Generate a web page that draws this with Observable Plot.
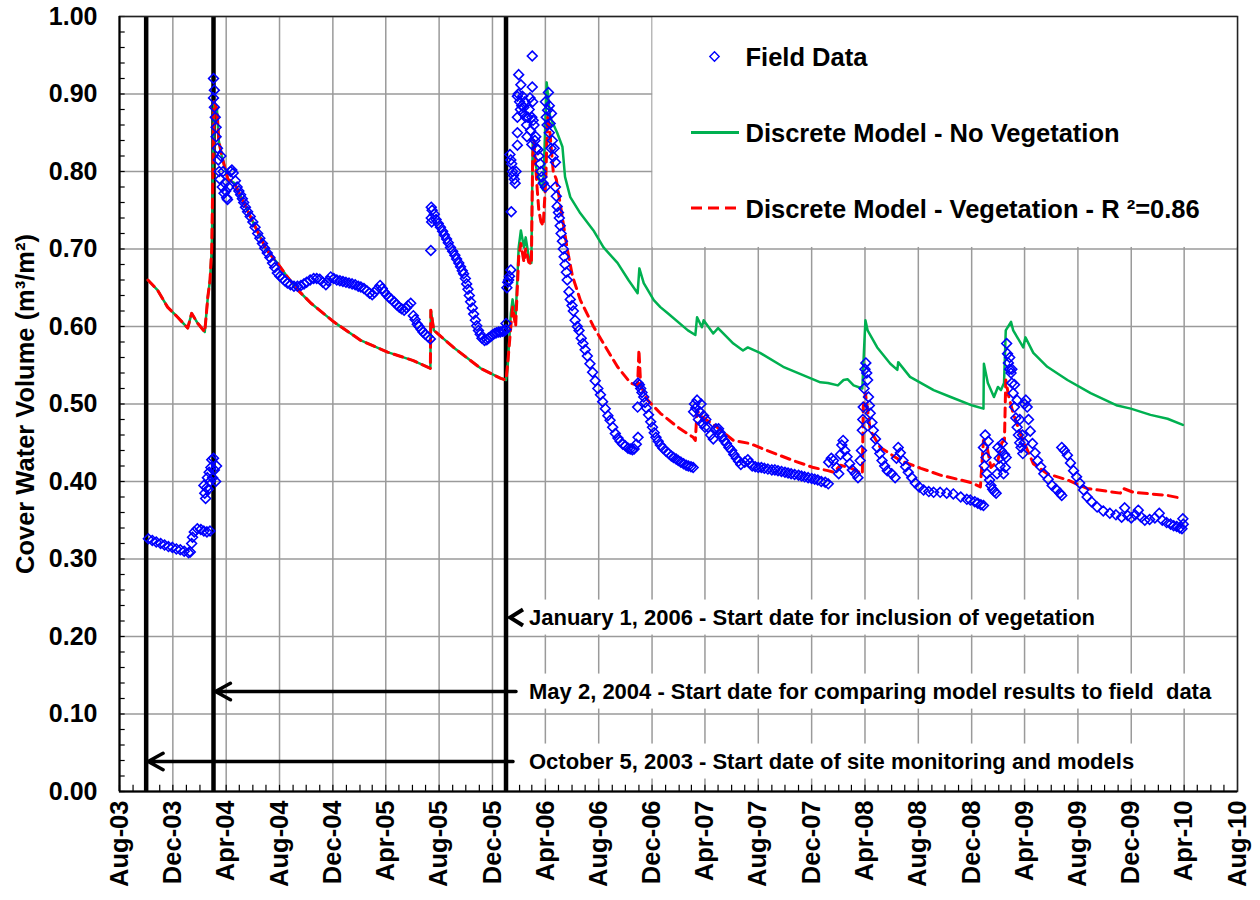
<!DOCTYPE html>
<html><head><meta charset="utf-8">
<script src="https://cdn.jsdelivr.net/npm/d3@7"></script>
<script src="https://cdn.jsdelivr.net/npm/@observablehq/plot@0.6"></script>
<style>
body{margin:0;background:#fff;}
#chart{width:1260px;height:900px;}
</style></head><body><div id="chart"></div>
<script>
// ---------- DATA ----------
const xTickDates = ["2003-08-01","2003-12-01","2004-04-01","2004-08-01","2004-12-01","2005-04-01","2005-08-01","2005-12-01","2006-04-01","2006-08-01","2006-12-01","2007-04-01","2007-08-01","2007-12-01","2008-04-01","2008-08-01","2008-12-01","2009-04-01","2009-08-01","2009-12-01","2010-04-01","2010-08-01"];
const yTicks = [0,0.1,0.2,0.3,0.4,0.5,0.6,0.7,0.8,0.9,1.0];
const seriesNames = ["Field Data","Discrete Model - No Vegetation","Discrete Model - Vegetation - R \u00B2=0.86"];
const yTitle = "Cover Water Volume (m\u00B3/m\u00B2)";
const markerDates = ["2003-10-01","2004-03-03","2006-01-01"];
const annotationLabels = [
 "January 1, 2006 - Start date for inclusion of vegetation",
 "May 2, 2004 - Start date for comparing model results to field  data",
 "October 5, 2003 - Start date of site monitoring and models"];

// model, both runs identical before 2006
const modelShared = [["2003-10-05",0.660],["2003-10-27",0.647],["2003-11-19",0.625],["2003-12-12",0.612],["2004-01-04",0.598],["2004-01-13",0.617],["2004-01-27",0.604],["2004-02-12",0.593],["2004-02-19",0.638],["2004-02-24",0.660],["2004-02-28",0.700],["2004-03-04",0.890],["2004-03-11",0.880],["2004-03-15",0.840],["2004-03-22",0.820],["2004-04-05",0.790],["2004-04-20",0.785],["2004-05-01",0.772],["2004-06-01",0.735],["2004-07-01",0.700],["2004-07-27",0.682],["2004-08-19",0.664],["2004-09-12",0.647],["2004-10-12",0.630],["2004-12-03",0.606],["2005-02-03",0.582],["2005-04-05",0.567],["2005-06-03",0.556],["2005-07-12",0.546],["2005-07-13",0.621],["2005-07-20",0.595],["2005-09-03",0.573],["2005-11-04",0.546],["2005-12-20",0.533],["2006-01-01",0.531]];
const noVegAfter = [["2006-01-05",0.550],["2006-01-12",0.617],["2006-01-16",0.635],["2006-01-23",0.612],["2006-01-30",0.702],["2006-02-04",0.724],["2006-02-11",0.702],["2006-02-15",0.715],["2006-02-22",0.690],["2006-02-28",0.682],["2006-03-03",0.837],["2006-03-06",0.820],["2006-03-13",0.800],["2006-03-20",0.785],["2006-03-27",0.776],["2006-04-04",0.915],["2006-04-12",0.870],["2006-04-28",0.850],["2006-05-10",0.832],["2006-05-16",0.793],["2006-05-28",0.767],["2006-06-20",0.746],["2006-07-20",0.724],["2006-08-12",0.702],["2006-09-13",0.682],["2006-10-08",0.660],["2006-10-29",0.643],["2006-11-02",0.675],["2006-11-12",0.656],["2006-12-05",0.634],["2006-12-20",0.625],["2007-01-06",0.617],["2007-02-21",0.595],["2007-03-10",0.589],["2007-03-14",0.612],["2007-03-25",0.599],["2007-03-29",0.608],["2007-04-20",0.591],["2007-05-01",0.598],["2007-06-05",0.578],["2007-06-27",0.569],["2007-07-08",0.573],["2007-08-05",0.566],["2007-09-27",0.548],["2007-12-21",0.528],["2008-01-07",0.527],["2008-01-30",0.524],["2008-02-12",0.531],["2008-02-21",0.532],["2008-03-06",0.524],["2008-03-26",0.520],["2008-03-28",0.548],["2008-04-02",0.608],["2008-04-07",0.595],["2008-04-29",0.573],["2008-05-29",0.552],["2008-06-14",0.544],["2008-06-16",0.554],["2008-07-13",0.535],["2008-09-05",0.518],["2008-10-14",0.509],["2008-12-03",0.498],["2008-12-28",0.494],["2008-12-29",0.552],["2009-01-07",0.527],["2009-01-21",0.509],["2009-01-30",0.522],["2009-02-06",0.518],["2009-02-13",0.527],["2009-02-17",0.595],["2009-03-01",0.606],["2009-03-06",0.595],["2009-03-29",0.573],["2009-04-03",0.586],["2009-04-21",0.566],["2009-05-23",0.548],["2009-07-08",0.531],["2009-08-30",0.514],["2009-10-30",0.498],["2009-11-30",0.494],["2010-01-14",0.486],["2010-02-22",0.481],["2010-03-29",0.473]];
const vegAfter = [["2006-01-05",0.553],["2006-01-12",0.600],["2006-01-16",0.625],["2006-01-23",0.600],["2006-01-30",0.690],["2006-02-04",0.707],["2006-02-11",0.683],["2006-02-15",0.700],["2006-02-22",0.683],["2006-02-28",0.680],["2006-03-03",0.820],["2006-03-06",0.840],["2006-03-13",0.780],["2006-03-17",0.750],["2006-03-22",0.735],["2006-03-27",0.730],["2006-04-02",0.790],["2006-04-06",0.870],["2006-04-10",0.860],["2006-04-19",0.800],["2006-04-26",0.790],["2006-05-10",0.740],["2006-05-21",0.700],["2006-06-02",0.665],["2006-06-20",0.634],["2006-07-20",0.600],["2006-08-12",0.578],["2006-09-13",0.548],["2006-10-13",0.527],["2006-10-29",0.524],["2006-11-01",0.570],["2006-11-05",0.524],["2006-11-21",0.505],["2006-12-20",0.488],["2007-01-29",0.470],["2007-03-05",0.457],["2007-03-10",0.453],["2007-03-14",0.492],["2007-03-21",0.485],["2007-04-29",0.470],["2007-06-05",0.453],["2007-07-13",0.449],["2007-08-21",0.440],["2007-10-20",0.427],["2007-12-05",0.418],["2008-01-07",0.414],["2008-01-21",0.412],["2008-02-05",0.421],["2008-03-01",0.417],["2008-03-26",0.410],["2008-03-28",0.496],["2008-04-02",0.514],["2008-04-13",0.466],["2008-05-06",0.444],["2008-06-21",0.427],["2008-08-07",0.417],["2008-09-22",0.408],["2008-11-06",0.402],["2008-12-03",0.398],["2008-12-21",0.393],["2008-12-28",0.453],["2009-01-05",0.445],["2009-01-14",0.418],["2009-01-30",0.427],["2009-02-08",0.450],["2009-02-14",0.453],["2009-02-17",0.531],["2009-02-24",0.509],["2009-03-06",0.488],["2009-03-22",0.462],["2009-04-21",0.423],["2009-05-23",0.410],["2009-07-08",0.402],["2009-08-22",0.391],["2009-11-06",0.385],["2009-11-13",0.391],["2009-12-06",0.386],["2010-02-22",0.382],["2010-03-29",0.378]];

// field data, by measurement period
const fieldOct03 = [["2003-10-06",0.326],["2003-10-15",0.324],["2003-10-24",0.322],["2003-11-03",0.320],["2003-11-12",0.318],["2003-11-21",0.316],["2003-11-30",0.315],["2003-12-09",0.313],["2003-12-18",0.312],["2003-12-27",0.310],["2004-01-06",0.308],["2004-01-10",0.309],["2004-01-13",0.320],["2004-01-15",0.328],["2004-01-19",0.335],["2004-01-26",0.339],["2004-02-03",0.338],["2004-02-10",0.336],["2004-02-17",0.335],["2004-02-24",0.336],
 ["2004-02-10",0.395],["2004-02-12",0.385],["2004-02-14",0.378],["2004-02-16",0.392],["2004-02-18",0.405],["2004-02-20",0.390],["2004-02-22",0.412],["2004-02-24",0.400],["2004-02-26",0.418],["2004-02-28",0.428],["2004-03-01",0.405],["2004-03-03",0.430],["2004-03-05",0.415],["2004-03-08",0.400],["2004-03-10",0.420]];
const fieldMar04 = [["2004-03-03",0.920],["2004-03-03",0.895],["2004-03-05",0.905],["2004-03-05",0.883],["2004-03-07",0.870],["2004-03-09",0.857],["2004-03-09",0.845],["2004-03-12",0.830],["2004-03-14",0.815],["2004-03-16",0.800],["2004-03-18",0.790],["2004-03-20",0.820],["2004-03-23",0.780],["2004-03-25",0.800],["2004-03-27",0.772],["2004-03-29",0.785],["2004-03-31",0.775],["2004-04-02",0.766],["2004-04-04",0.764],["2004-04-07",0.780],["2004-04-11",0.800],["2004-04-14",0.802],["2004-04-17",0.798],["2004-04-22",0.788],["2004-04-26",0.780],["2004-04-30",0.775],["2004-05-04",0.770],["2004-05-08",0.765],["2004-05-11",0.760],["2004-05-15",0.754],["2004-05-20",0.748],["2004-05-26",0.742],["2004-06-01",0.735],["2004-06-06",0.728],["2004-06-12",0.720],["2004-06-17",0.714],["2004-06-23",0.707],["2004-06-28",0.701],["2004-07-04",0.695],["2004-07-10",0.689],["2004-07-16",0.682],["2004-07-21",0.676],["2004-07-27",0.669],["2004-08-02",0.665],["2004-08-08",0.662],["2004-08-13",0.659],["2004-08-19",0.656],["2004-08-26",0.654],["2004-09-03",0.652],["2004-09-11",0.652],["2004-09-19",0.653],["2004-09-26",0.655],["2004-10-02",0.657],["2004-10-10",0.660],["2004-10-18",0.662],["2004-10-25",0.662],["2004-11-01",0.661],["2004-11-08",0.657],["2004-11-15",0.654],["2004-11-20",0.659],["2004-11-26",0.664],["2004-12-03",0.662],["2004-12-10",0.660],["2004-12-17",0.659],["2004-12-24",0.658],["2004-12-31",0.657],["2005-01-07",0.656],["2005-01-14",0.655],["2005-01-21",0.654],["2005-01-28",0.652],["2005-02-03",0.651],["2005-02-10",0.649],["2005-02-17",0.646],["2005-02-23",0.643],["2005-03-01",0.641],["2005-03-06",0.644],["2005-03-12",0.648],["2005-03-19",0.653],["2005-03-24",0.649],["2005-03-28",0.645],["2005-04-03",0.641],["2005-04-09",0.637],["2005-04-14",0.635],["2005-04-20",0.632],["2005-04-26",0.628],["2005-05-02",0.625],["2005-05-07",0.623],["2005-05-13",0.621],["2005-05-18",0.624],["2005-05-22",0.627],["2005-05-28",0.630],["2005-06-03",0.614],["2005-06-07",0.609],["2005-06-12",0.603],["2005-06-16",0.600],["2005-06-21",0.596],["2005-06-25",0.593],["2005-06-30",0.590],["2005-07-06",0.587],["2005-07-12",0.584]];
const fieldJul05 = [["2005-07-13",0.698],["2005-07-14",0.754],["2005-07-14",0.740],["2005-07-15",0.735],["2005-07-16",0.750],["2005-07-21",0.745],["2005-07-25",0.738],["2005-07-30",0.733],["2005-08-04",0.728],["2005-08-09",0.723],["2005-08-13",0.718],["2005-08-18",0.713],["2005-08-22",0.708],["2005-08-27",0.702],["2005-09-01",0.697],["2005-09-06",0.692],["2005-09-10",0.687],["2005-09-15",0.682],["2005-09-19",0.677],["2005-09-23",0.672],["2005-09-26",0.668],["2005-09-30",0.662],["2005-10-03",0.655],["2005-10-06",0.648],["2005-10-09",0.640],["2005-10-12",0.632],["2005-10-16",0.624],["2005-10-19",0.616],["2005-10-23",0.608],["2005-10-26",0.601],["2005-10-30",0.595],["2005-11-03",0.590],["2005-11-07",0.585],["2005-11-13",0.582],["2005-11-18",0.583],["2005-11-22",0.585],["2005-11-27",0.587],["2005-12-01",0.589],["2005-12-06",0.591],["2005-12-10",0.592],["2005-12-15",0.593],["2005-12-19",0.593],["2005-12-24",0.594],["2005-12-28",0.594],["2006-01-01",0.596],["2006-01-01",0.604],["2006-01-03",0.650],["2006-01-05",0.657],["2006-01-07",0.660],["2006-01-09",0.665],["2006-01-12",0.673]];
const fieldJan06 = [["2006-01-10",0.822],["2006-01-12",0.815],["2006-01-13",0.748],["2006-01-14",0.810],["2006-01-16",0.800],["2006-01-18",0.795],["2006-01-20",0.790],["2006-01-22",0.785],["2006-01-24",0.800],["2006-01-27",0.870],["2006-01-27",0.897],["2006-01-27",0.850],["2006-01-27",0.834],["2006-01-29",0.900],["2006-01-30",0.925],["2006-02-01",0.890],["2006-02-03",0.880],["2006-02-04",0.912],["2006-02-06",0.885],["2006-02-08",0.897],["2006-02-09",0.875],["2006-02-11",0.883],["2006-02-13",0.890],["2006-02-15",0.870],["2006-02-17",0.860],["2006-02-18",0.845],["2006-02-20",0.870],["2006-02-23",0.880],["2006-02-25",0.895],["2006-02-26",0.853],["2006-03-01",0.870],["2006-03-01",0.835],["2006-03-02",0.909],["2006-03-02",0.949],["2006-03-03",0.890],["2006-03-04",0.866],["2006-03-06",0.860],["2006-03-08",0.840],["2006-03-10",0.845],["2006-03-12",0.830],["2006-03-15",0.828],["2006-03-17",0.820],["2006-03-20",0.810],["2006-03-22",0.800],["2006-03-24",0.793],["2006-03-27",0.785],["2006-04-01",0.780],["2006-04-01",0.890],["2006-04-03",0.870],["2006-04-05",0.860],["2006-04-06",0.879],["2006-04-08",0.902],["2006-04-10",0.885],["2006-04-10",0.850],["2006-04-12",0.862],["2006-04-14",0.830],["2006-04-15",0.875],["2006-04-17",0.840],["2006-04-19",0.819],["2006-04-21",0.830],["2006-04-24",0.812],
 ["2006-04-24",0.780],["2006-04-26",0.768],["2006-04-28",0.755],["2006-05-01",0.747],["2006-05-03",0.740],["2006-05-05",0.730],["2006-05-07",0.720],["2006-05-10",0.710],["2006-05-12",0.700],["2006-05-14",0.690],["2006-05-16",0.680],["2006-05-19",0.670],["2006-05-21",0.660],["2006-05-25",0.645],["2006-05-28",0.635],["2006-06-01",0.627],["2006-06-04",0.620],["2006-06-08",0.608],["2006-06-13",0.600],["2006-06-17",0.595],["2006-06-22",0.585],["2006-06-26",0.578],["2006-07-01",0.570],["2006-07-06",0.562],["2006-07-12",0.552],["2006-07-18",0.541],["2006-07-24",0.530],["2006-07-30",0.520],["2006-08-05",0.512],["2006-08-10",0.503],["2006-08-16",0.494],["2006-08-22",0.485],["2006-08-27",0.479],["2006-09-02",0.470],["2006-09-08",0.462],["2006-09-14",0.456],["2006-09-19",0.452],["2006-09-25",0.448],["2006-10-01",0.446],["2006-10-07",0.443],["2006-10-12",0.442],["2006-10-17",0.441],["2006-10-21",0.442],["2006-10-26",0.448],["2006-10-30",0.457]];
const fieldOct06 = [["2006-10-29",0.496],["2006-10-30",0.527],["2006-11-02",0.525],["2006-11-05",0.520],["2006-11-08",0.515],["2006-11-12",0.509],["2006-11-15",0.502],["2006-11-18",0.495],["2006-11-23",0.486],["2006-11-28",0.477],["2006-12-02",0.470],["2006-12-06",0.463],["2006-12-10",0.457],["2006-12-15",0.452],["2006-12-20",0.447],["2006-12-26",0.443],["2007-01-02",0.439],["2007-01-08",0.436],["2007-01-14",0.433],["2007-01-19",0.431],["2007-01-25",0.429],["2007-01-30",0.427],["2007-02-05",0.425],["2007-02-11",0.423],["2007-02-17",0.421],["2007-02-22",0.420],["2007-02-28",0.419],["2007-03-05",0.418]];
const fieldMar07 = [["2007-03-06",0.490],["2007-03-08",0.500],["2007-03-11",0.495],["2007-03-14",0.505],["2007-03-17",0.480],["2007-03-20",0.490],["2007-03-23",0.500],["2007-03-26",0.475],["2007-03-29",0.485],["2007-04-01",0.470],["2007-04-03",0.480],["2007-04-08",0.470],["2007-04-14",0.460],["2007-04-20",0.455],["2007-04-26",0.468],["2007-05-02",0.468],["2007-05-06",0.463],["2007-05-10",0.458],["2007-05-15",0.453],["2007-05-20",0.449],["2007-05-26",0.444],["2007-06-01",0.440],["2007-06-06",0.435],["2007-06-12",0.430],["2007-06-17",0.426],["2007-06-22",0.422],["2007-07-01",0.425],["2007-07-08",0.428],["2007-07-13",0.424],["2007-07-18",0.420],["2007-07-25",0.419],["2007-08-01",0.418],["2007-08-08",0.418],["2007-08-15",0.417],["2007-08-23",0.416],["2007-09-01",0.415],["2007-09-08",0.415],["2007-09-15",0.414],["2007-09-23",0.413],["2007-10-01",0.412],["2007-10-08",0.411],["2007-10-15",0.410],["2007-10-23",0.409],["2007-11-01",0.408],["2007-11-08",0.407],["2007-11-15",0.406],["2007-11-23",0.405],["2007-12-01",0.404],["2007-12-08",0.403],["2007-12-15",0.402],["2007-12-23",0.400],["2008-01-01",0.399],["2008-01-08",0.397]];
const fieldJan08 = [["2008-01-09",0.425],["2008-01-15",0.430],["2008-01-20",0.427],["2008-01-27",0.418],["2008-02-01",0.410],["2008-02-05",0.435],["2008-02-08",0.447],["2008-02-11",0.453],["2008-02-15",0.440],["2008-02-20",0.432],["2008-02-26",0.423],["2008-03-03",0.415],["2008-03-10",0.410],["2008-03-16",0.405],["2008-03-21",0.427],["2008-03-24",0.440],["2008-03-26",0.466],["2008-03-27",0.480],["2008-03-28",0.496],["2008-03-30",0.520],["2008-04-01",0.545],["2008-04-03",0.553],["2008-04-05",0.540],["2008-04-07",0.531],["2008-04-09",0.509],["2008-04-11",0.498],["2008-04-13",0.488],["2008-04-17",0.476],["2008-04-20",0.466],["2008-04-25",0.455],["2008-04-29",0.444],["2008-05-05",0.436],["2008-05-10",0.427],["2008-05-16",0.420],["2008-05-22",0.414],["2008-06-01",0.410],["2008-06-09",0.405],["2008-06-12",0.430],["2008-06-16",0.444],["2008-06-21",0.437],["2008-06-27",0.427],["2008-07-03",0.419],["2008-07-09",0.412],["2008-07-17",0.405],["2008-07-25",0.398],["2008-08-03",0.393],["2008-08-13",0.389],["2008-08-25",0.387],["2008-09-05",0.386],["2008-09-20",0.386],["2008-10-05",0.385],["2008-10-20",0.384],["2008-11-06",0.380],["2008-11-20",0.377],["2008-11-28",0.376],["2008-12-08",0.374],["2008-12-15",0.372],["2008-12-22",0.370],["2008-12-28",0.369]];
const fieldDec08 = [["2008-12-28",0.444],["2008-12-30",0.420],["2009-01-01",0.460],["2009-01-03",0.431],["2009-01-05",0.410],["2009-01-08",0.452],["2009-01-11",0.402],["2009-01-14",0.395],["2009-01-18",0.390],["2009-01-22",0.387],["2009-01-26",0.385],["2009-01-28",0.410],["2009-01-30",0.444],["2009-02-02",0.430],["2009-02-04",0.420],["2009-02-06",0.440],["2009-02-09",0.449],["2009-02-12",0.410],["2009-02-14",0.435],["2009-02-16",0.418],["2009-02-18",0.431],["2009-02-19",0.578],["2009-02-21",0.565],["2009-02-23",0.553],["2009-02-26",0.545],["2009-02-26",0.560],["2009-03-01",0.540],["2009-03-03",0.527],["2009-03-03",0.545],["2009-03-06",0.514],["2009-03-09",0.496],["2009-03-09",0.525],["2009-03-12",0.482],["2009-03-15",0.470],["2009-03-15",0.505],["2009-03-18",0.460],["2009-03-21",0.450],["2009-03-21",0.480],["2009-03-24",0.444],["2009-03-27",0.460],["2009-03-28",0.436],["2009-03-31",0.450],["2009-04-01",0.500],["2009-04-04",0.505],["2009-04-07",0.496],["2009-04-10",0.480],["2009-04-14",0.465],["2009-04-19",0.449],["2009-04-25",0.437],["2009-05-01",0.427],["2009-05-08",0.419],["2009-05-15",0.410],["2009-05-25",0.403],["2009-06-03",0.395],["2009-06-12",0.390],["2009-06-21",0.385],["2009-06-25",0.382]];
const fieldJun09 = [["2009-06-25",0.444],["2009-07-01",0.440],["2009-07-08",0.434],["2009-07-15",0.424],["2009-07-22",0.414],["2009-07-29",0.406],["2009-08-05",0.398],["2009-08-14",0.389],["2009-08-22",0.380],["2009-09-01",0.374],["2009-09-14",0.367],["2009-09-28",0.362],["2009-10-13",0.359],["2009-10-27",0.357],["2009-11-09",0.354],["2009-11-16",0.366],["2009-11-23",0.356],["2009-12-01",0.353],["2009-12-10",0.357],["2009-12-17",0.363],["2009-12-24",0.354],["2010-01-01",0.350],["2010-01-12",0.351],["2010-01-24",0.353],["2010-02-03",0.359],["2010-02-10",0.350],["2010-02-20",0.347],["2010-03-01",0.345],["2010-03-08",0.343],["2010-03-15",0.342],["2010-03-22",0.340],["2010-03-27",0.339],["2010-03-29",0.352],["2010-03-30",0.345]];

// ---------- BUILD ----------
const D = s => new Date(s);
const toRows = arr => arr.map(([d, v]) => ({date: D(d), value: v}));
const noVeg = toRows(modelShared.concat(noVegAfter));
const veg = toRows(modelShared.concat(vegAfter));
const field = toRows([].concat(fieldOct03, fieldMar04, fieldJul05, fieldJan06, fieldOct06, fieldMar07, fieldJan08, fieldDec08, fieldJun09));

const GREEN = "#00B050", RED = "#FF0000", BLUE = "#0000FF", GRID = "#9a9a9a";
const FONT = "'Liberation Sans', Arial, Helvetica, sans-serif";
const x0 = D(xTickDates[0]), x1 = D(xTickDates[xTickDates.length - 1]);
const xTicks = xTickDates.map(D);
const lines = markerDates.map(D);
const monthTicks = d3.utcMonth.range(x0, x1);
const yMinor = d3.range(0, 1.0001, 0.02);
const minorLen = d3.utcDay.offset(x0, 13);
const legendBox = [{x1: d3.utcDay.offset(xTicks[10], 2), x2: x1, y1: 0.702, y2: 1}];
const anno = [
  {label: annotationLabels[0], y: 0.2245},
  {label: annotationLabels[1], y: 0.129, to: lines[1], pad: -10},
  {label: annotationLabels[2], y: 0.0387, to: lines[0], pad: -7}
];
// left-pointing open chevron (arrowhead without shaft)
const chevron = {draw(ctx) { ctx.moveTo(13, -8); ctx.lineTo(0, 0); ctx.lineTo(13, 8); }};

const chart = Plot.plot({
  width: 1260, height: 900,
  marginLeft: 119, marginRight: 23, marginTop: 16, marginBottom: 109,
  style: {fontFamily: FONT, background: "white", color: "black"},
  x: {type: "utc", domain: [x0, x1]},
  y: {domain: [0, 1]},
  marks: [
    Plot.ruleX(xTicks, {stroke: GRID, strokeWidth: 1.5}),
    Plot.ruleY(yTicks, {stroke: GRID, strokeWidth: 1.5}),
    Plot.rect(legendBox, {x1: "x1", x2: "x2", y1: "y1", y2: "y2", fill: "white"}),
    Plot.ruleX(monthTicks, {y1: 0, y2: 0.008, stroke: "black", strokeWidth: 1.2}),
    Plot.ruleY(yMinor, {x1: x0, x2: minorLen, stroke: "black", strokeWidth: 1.2}),
    Plot.ruleX(lines, {stroke: "black", strokeWidth: 4.5}),
    Plot.line(noVeg, {x: "date", y: "value", stroke: GREEN, strokeWidth: 2.5}),
    Plot.line(veg, {x: "date", y: "value", stroke: RED, strokeWidth: 3, strokeDasharray: "9,6"}),
    Plot.dot(field, {x: "date", y: "value", symbol: "diamond2", r: 4.4, stroke: BLUE, fill: "none", strokeWidth: 1.6}),
    ...anno.slice(1).map(a => Plot.arrow([a], {x1: () => lines[2], x2: "to", y1: "y", y2: "y", stroke: "black", strokeWidth: 3.5, headLength: 7.3, headAngle: 58, insetStart: a.pad, insetEnd: 2})),
    Plot.dot([anno[0]], {x: () => lines[2], y: "y", dx: 4, symbol: chevron, stroke: "black", fill: "none", strokeWidth: 4}),
    ...anno.map(a => Plot.text([a], {x: () => lines[2], y: "y", text: "label", textAnchor: "start", dx: 23, fontSize: 22, fontWeight: "bold", fill: "black"})),
    Plot.frame({stroke: "#222", strokeWidth: 1.5}),
    Plot.ruleX([x0], {stroke: "black", strokeWidth: 2}),
    Plot.ruleY([0], {stroke: "black", strokeWidth: 2}),
    // legend
    Plot.dot([1], {y: d => d, frameAnchor: "left", dx: 595, dy: 40, symbol: "diamond2", r: 4.2, stroke: BLUE, fill: "none", strokeWidth: 1.4}),
    Plot.ruleY([1], {dy: 116, insetLeft: 572, insetRight: 498, stroke: GREEN, strokeWidth: 3}),
    Plot.ruleY([1], {dy: 191.5, insetLeft: 572, insetRight: 498, stroke: RED, strokeWidth: 3, strokeDasharray: "11,6"}),
    ...seriesNames.map((s, i) => Plot.text([s], {y: () => 1, text: d => d, frameAnchor: "left", textAnchor: "start", dx: 626, dy: [41, 117, 193][i], fontSize: 25.5, fontWeight: "bold", fill: "black"})),
    // axes
    Plot.axisY({ticks: yTicks, tickFormat: d3.format(".2f"), tickSize: 0, tickPadding: 22, fontSize: 25, fontWeight: "bold", label: null}),
    Plot.text([yTitle], {frameAnchor: "left", textAnchor: "middle", dx: -94, rotate: -90, fontSize: 25.5, fontWeight: "bold", fill: "black"}),
    Plot.axisX({ticks: xTicks, tickFormat: d3.utcFormat("%b-%y"), tickRotate: -90, tickSize: 0, tickPadding: 9, fontSize: 25.5, fontWeight: "bold", label: null})
  ]
});
document.getElementById("chart").appendChild(chart);

// white boxes behind annotation texts (as in the original text boxes)
d3.select(chart).selectAll("text").filter(function() { return annotationLabels.includes(this.textContent); }).each(function() {
  const bb = this.getBBox();
  d3.select(this.parentNode).insert("rect", () => this)
    .attr("transform", this.getAttribute("transform"))
    .attr("x", bb.x - 5).attr("y", bb.y - 5).attr("width", bb.width + 10).attr("height", bb.height + 10)
    .attr("fill", "white");
});
</script>
</body></html>
